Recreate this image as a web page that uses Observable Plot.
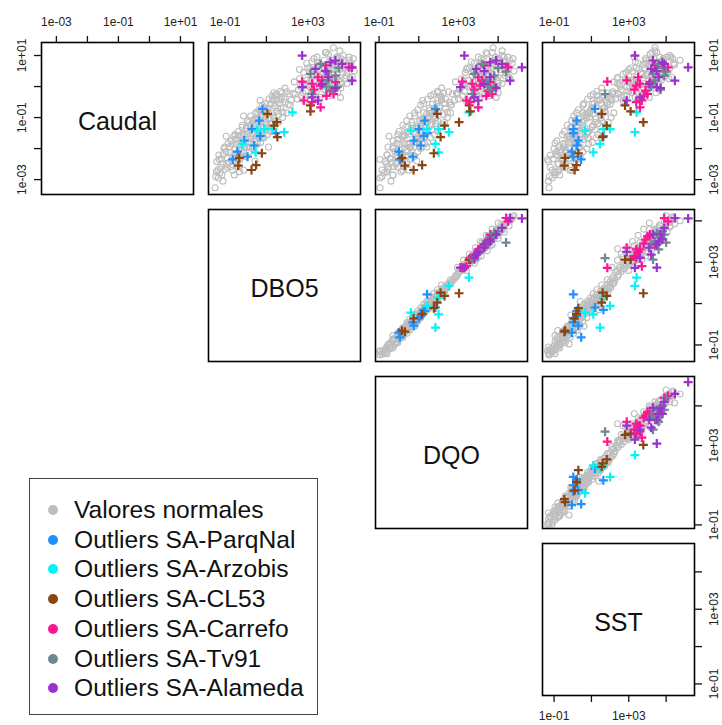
<!DOCTYPE html>
<html>
<head>
<meta charset="utf-8">
<script src="https://cdn.jsdelivr.net/npm/d3@7"></script>
<script src="https://cdn.jsdelivr.net/npm/@observablehq/plot@0.6"></script>
<style>
  body { margin: 0; background: #fff; }
  #chart { position: relative; width: 722px; height: 725px; overflow: hidden; background: #fff;
           font-family: Arial, "Liberation Sans", sans-serif; }
  .legend { position: absolute; left: 29px; top: 478px; width: 289px; height: 237px;
            border: 1.5px solid #444; background: #fff; box-sizing: border-box; }
  .legend .item { position: absolute; left: 0; height: 30px; display: flex; align-items: center;
                  font-size: 24.6px; color: #111; white-space: nowrap; }
  .legend .dot { width: 10px; height: 10px; border-radius: 50%; margin-left: 18px; margin-right: 16px; }
</style>
</head>
<body>
<div id="chart"></div>
<script>
// Variables of the scatterplot matrix (log10 scale on every axis)
const variables = ["Caudal", "DBO5", "DQO", "SST"];
// Axis limits per variable, as log10 exponents
const axisLimits = [[-3.48, 1.42], [-1.80, 5.55], [-1.18, 6.48], [-1.62, 6.52]];
// Tick exponents per variable, and which of them carry a label
const tickExps = [[-3, -2, -1, 0, 1], [-1, 1, 3, 5], [-1, 1, 3, 5], [-1, 1, 3, 5]];
const labelExps = [[-3, -1, 1], [-1, 3], [-1, 3], [-1, 3]];

const groups = ["Valores normales", "Outliers SA-ParqNal", "Outliers SA-Arzobis", "Outliers SA-CL53",
                "Outliers SA-Carrefo", "Outliers SA-Tv91", "Outliers SA-Alameda"];
const colors = ["#BEBEBE", "#1E90FF", "#00F5F5", "#8B4513", "#FF1493", "#6E8792", "#9A32CD"];

// Observations as log10 values: [Caudal, DBO5, DQO, SST]
const normales = [
  [-3.26,-1.48,-0.95,-1.27],[-2.42,-1.40,-0.70,-1.30],[-2.69,-1.35,-0.85,-1.10],[-2.21,-1.30,-0.60,-1.20],
  [-2.78,-1.25,-0.75,-0.95],[-2.33,-1.18,-0.45,-1.05],[-2.49,-1.12,-0.62,-0.80],[-2.00,-1.05,-0.30,-1.00],
  [-2.67,-1.00,-0.55,-0.70],[-2.09,-0.95,-0.20,-0.85],[-2.31,-0.90,-0.40,-0.60],[-1.83,-0.85,-0.10,-0.95],
  [-2.45,-0.80,-0.35,-0.45],[-2.12,-0.75,-0.05,-0.70],[-2.58,-0.70,-0.25,-0.55],[-1.86,-0.66,0.05,-0.40],
  [-2.23,-0.62,-0.10,-0.80],[-1.61,-0.58,0.15,-0.30],[-2.03,-0.54,0.00,-0.65],[-2.31,-0.50,-0.05,-0.20],
  [-1.84,-0.46,0.25,-0.50],[-2.16,-0.42,0.10,-0.35],[-1.59,-0.38,0.30,-0.15],[-2.31,-0.34,0.15,-0.55],
  [-1.84,-0.30,0.40,-0.25],[-1.61,-0.26,0.20,0.00],[-2.09,-0.22,0.45,-0.40],[-1.31,-0.18,0.35,-0.10],
  [-1.84,-0.14,0.55,0.10],[-2.11,-0.10,0.40,-0.30],[-1.54,-0.06,0.60,-0.05],[-1.86,-0.02,0.50,0.20],
  [-1.34,0.02,0.70,-0.10],[-1.96,0.06,0.55,0.15],[-1.54,0.10,0.80,0.05],[-1.16,0.14,0.65,0.30],
  [-1.69,0.18,0.90,0.00],[-1.96,0.22,0.75,0.35],[-1.29,0.26,0.95,0.20],[-1.51,0.30,0.80,0.45],
  [-1.09,0.34,1.05,0.15],[-1.71,0.38,0.90,0.55],[-1.29,0.42,1.10,0.30],[-1.76,0.46,1.00,0.25],
  [-1.09,0.50,1.20,0.60],[-1.42,0.54,1.05,0.40],[-0.84,0.58,1.25,0.55],[-1.52,0.62,1.15,0.75],
  [-1.24,0.66,1.35,0.50],[-1.67,0.70,1.25,0.85],[-0.89,0.74,1.40,0.70],[-1.32,0.78,1.30,0.65],
  [-0.99,0.82,1.50,0.90],[-1.47,0.86,1.40,0.80],[-0.69,0.90,1.55,1.00],[-1.02,0.94,1.45,0.75],
  [-1.24,0.98,1.65,1.10],[-0.77,1.02,1.55,0.95],[-1.39,1.06,1.70,1.20],[-0.87,1.10,1.60,0.90],
  [-1.04,1.14,1.80,1.25],[-0.57,1.18,1.70,1.05],[-1.19,1.22,1.85,1.35],[-0.87,1.26,1.75,1.10],
  [-0.44,1.30,1.95,1.30],[-1.01,1.35,1.85,1.50],[-0.63,1.40,2.05,1.25],[-1.10,1.45,1.95,1.55],
  [-0.42,1.50,2.15,1.45],[-0.69,1.55,2.05,1.70],[-0.91,1.60,2.25,1.50],[-0.43,1.65,2.15,1.80],
  [-0.70,1.70,2.35,1.65],[-0.21,1.75,2.25,1.90],[-0.83,1.80,2.45,1.75],[-0.40,1.86,2.35,2.00],
  [-0.51,1.92,2.55,1.85],[-0.17,1.98,2.50,2.15],[-0.58,2.05,2.65,2.00],[-0.24,2.12,2.70,2.25],
  [-0.44,2.20,2.80,2.10],[-0.22,2.30,2.90,2.40],
  [-2.60,-1.20,-0.55,-1.20],[-2.20,-1.10,-0.60,-0.90],[-2.50,-0.92,-0.15,-0.75],[-1.95,-0.78,-0.30,-0.50],
  [-2.40,-0.60,0.10,-0.55],[-1.70,-0.48,-0.05,-0.20],[-2.05,-0.32,0.35,-0.40],[-1.55,-0.20,0.25,0.10],
  [-1.95,-0.08,0.60,-0.20],[-1.45,0.04,0.45,0.20],[-1.80,0.12,0.85,0.15],[-1.25,0.20,0.70,0.25],
  [-1.65,0.28,1.00,0.20],[-1.35,0.36,0.85,0.50],[-1.05,0.44,1.15,0.35],[-1.60,0.52,0.95,0.65],
  [-1.15,0.60,1.30,0.50],[-1.45,0.68,1.15,0.85],[-0.95,0.76,1.50,0.75],[-1.30,0.84,1.30,1.05],
  [-0.85,0.92,1.65,0.80],[-1.15,1.00,1.45,1.20],[-0.70,1.08,1.80,1.00],[-1.20,1.16,1.60,1.35],
  [-0.55,1.24,1.90,1.15],[-0.95,1.32,1.75,1.50],[-0.30,1.42,2.10,1.30],[-0.80,1.52,1.95,1.70],
  [-0.55,1.62,2.30,1.50],[-0.35,1.72,2.15,1.90],[-0.20,1.36,1.95,1.55],[-2.55,-0.40,0.25,-0.50],
  [-2.25,0.00,0.45,0.05],[-1.95,0.40,1.10,0.30],[-1.65,0.80,1.25,0.80],[-2.90,-1.45,-0.85,-1.25],
  [-2.95,-1.32,-0.95,-1.10],[-2.70,-0.10,0.50,-0.05],
  [-2.75,-1.42,-0.60,-0.95],[-2.35,-1.28,-0.95,-1.35],[-2.85,-1.15,-0.30,-0.70],[-1.95,-1.02,-0.55,-0.75],
  [-2.60,-0.88,-0.05,-0.40],[-1.75,-0.72,-0.30,-0.85],[-2.70,-0.64,0.20,-0.15],[-1.55,-0.52,-0.05,-0.55],
  [-2.45,-0.44,0.40,0.05],[-1.45,-0.36,0.00,-0.45],[-2.35,-0.28,0.55,0.25],[-1.25,-0.16,0.20,-0.30],
  [-2.25,-0.04,0.80,0.40],[-1.10,0.08,0.40,-0.05],[-2.10,0.16,0.95,0.55],[-0.95,0.24,0.55,0.05],
  [-2.00,0.32,1.10,0.75],[-0.85,0.48,0.80,0.20],[-1.85,0.56,1.30,0.85],[-0.75,0.64,0.95,0.30],
  [-1.80,0.72,1.45,1.05],[-0.60,0.80,1.10,0.55],[-1.65,0.88,1.60,1.25],[-0.55,0.96,1.25,0.60],
  [-1.55,1.04,1.80,1.35],[-0.40,1.12,1.45,0.80],[-1.45,1.20,1.95,1.55],[-0.30,1.28,1.60,0.95],
  [-1.30,1.38,2.10,1.75],[-0.25,1.48,1.75,1.10],[-1.15,1.58,2.30,1.90],[-0.15,1.68,1.95,1.30],
  [-1.00,1.78,2.45,2.05],[-0.05,1.90,2.15,1.55],[-0.85,2.00,2.60,2.20],[-0.60,2.15,2.60,1.85],
  [-3.05,-1.10,-0.40,-1.30],[-2.75,-0.30,0.10,-0.80],[-2.40,0.45,0.90,-0.10],[-1.60,-0.95,-0.50,-0.20],
  [-0.95,-0.10,0.80,0.60],[-0.45,0.70,1.20,1.40],[-1.95,1.10,1.40,0.40],[-2.85,-0.55,-0.30,-0.95],
  [-0.40,2.50,3.00,2.30],[-0.10,2.55,3.05,2.60],[0.25,2.60,3.15,2.40],[-0.30,2.68,3.20,2.75],
  [0.05,2.75,3.25,2.50],[0.45,2.80,3.35,2.85],[-0.45,2.85,3.40,2.70],[-0.15,2.90,3.30,3.00],
  [0.20,2.95,3.50,2.80],[0.60,3.00,3.45,3.10],[-0.30,3.05,3.60,2.90],[0.00,3.10,3.55,3.25],
  [0.35,3.15,3.70,3.00],[0.80,3.20,3.65,3.35],[-0.20,3.25,3.80,3.15],[0.15,3.30,3.75,3.45],
  [0.50,3.35,3.90,3.20],[-0.40,3.40,3.85,3.50],[0.95,3.45,4.00,3.30],[0.05,3.50,3.95,3.60],
  [0.30,3.55,4.10,3.40],[0.70,3.60,4.05,3.75],[-0.25,3.65,4.20,3.55],[0.10,3.70,4.15,3.85],
  [0.45,3.75,4.30,3.65],[0.85,3.80,4.25,3.95],[-0.10,3.85,4.40,3.70],[0.25,3.90,4.35,4.05],
  [0.60,3.95,4.50,3.85],[1.05,4.00,4.45,4.15],[-0.30,4.05,4.55,3.90],[0.15,4.10,4.60,4.30],
  [0.40,4.15,4.70,4.05],[0.75,4.20,4.65,4.40],[0.00,4.25,4.80,4.20],[0.30,4.30,4.75,4.55],
  [0.65,4.35,4.90,4.30],[0.95,4.40,4.85,4.65],[-0.20,4.45,5.00,4.45],[0.20,4.50,4.95,4.75],
  [0.55,4.55,5.10,4.50],[0.90,4.60,5.05,4.85],[0.10,4.65,5.20,4.60],[0.45,4.70,5.15,4.95],
  [0.80,4.75,5.30,4.70],[0.35,4.85,5.35,5.00],[0.70,4.95,5.45,4.90],[0.25,5.05,5.60,5.15],
  [0.90,5.20,5.75,5.35],[-0.35,4.58,4.90,4.10],[1.25,4.24,4.75,4.40],[0.55,3.20,3.75,3.55],
  [0.20,3.60,4.00,3.10],[0.40,3.45,3.85,3.70],[0.65,3.70,4.35,4.10],[0.10,3.95,4.30,3.60],
  [0.50,4.05,4.55,4.45],[0.85,4.15,4.80,4.10],[0.30,4.40,4.75,4.25],[0.70,4.50,5.10,4.80],
  [-0.05,3.35,3.70,3.05],[0.35,3.85,4.45,3.90],[0.60,4.25,4.65,4.60],[0.15,4.60,5.00,4.40],
  [0.45,4.90,5.40,5.10],[1.00,4.70,5.20,5.20],[0.75,3.50,4.10,3.90],[-0.15,4.10,4.50,4.00],
  [0.25,4.80,5.25,4.65],[0.95,5.00,5.50,5.25],[0.50,5.25,5.80,5.00],[0.05,3.00,3.60,3.20],
  [0.40,4.00,4.40,3.95],[0.70,4.30,5.00,4.50],[-0.35,3.60,4.05,3.35],[0.20,3.15,3.50,2.95],
  [0.90,4.45,4.95,4.35],[0.60,3.10,3.55,3.40],[0.30,5.15,5.55,5.30],[1.10,3.90,4.40,4.25],
  [0.00,2.65,3.20,2.55],[-0.25,2.40,2.95,2.45],[0.15,2.35,2.85,2.20],[0.30,3.65,4.10,2.40],
  [0.55,2.60,3.40,3.00],[-0.20,2.75,2.95,2.10],[0.75,2.95,3.80,3.50],[0.10,3.10,3.25,2.40],
  [0.90,3.30,4.15,3.90],[-0.35,3.40,3.55,2.60],[0.65,3.55,4.45,4.20],[0.00,3.70,3.85,2.90],
  [1.10,3.85,4.70,4.50],[-0.15,4.00,4.10,3.20],[0.85,4.15,5.00,4.80],[0.20,4.30,4.40,3.50],
  [0.95,4.45,5.30,5.05],[-0.05,4.60,4.70,3.80],[0.60,4.75,5.55,5.20],[0.10,4.90,5.00,4.10],
  [0.75,5.10,5.70,5.40],[0.40,3.25,4.00,2.70],[0.15,3.80,4.60,3.30],[0.55,4.25,4.50,4.70],
  [1.15,4.55,5.20,4.40],[-0.25,3.15,3.90,3.70],[0.35,3.95,4.20,4.60],[0.70,4.85,5.15,5.45],
  [0.85,5.00,5.60,5.75]
];
const parqNal = [
  [-0.72,0.81,1.84,1.19],[-1.10,0.65,1.30,0.21],[-1.37,0.30,1.00,0.03],[-1.74,-0.07,0.75,0.30],
  [-1.90,0.41,1.10,0.21],[-2.26,0.09,0.70,0.03],[-2.35,-0.63,0.05,0.45],[-2.10,-0.40,0.00,-0.05],
  [-1.50,1.45,1.42,0.03],[-1.60,0.70,1.25,1.64]
];
const arzobis = [
  [-0.83,2.26,3.53,3.42],[-1.47,1.86,2.52,3.33],[-1.37,0.89,1.42,2.00],[-1.42,0.56,0.60,0.66],
  [-1.37,1.29,2.00,1.64],[-2.12,0.48,2.00,1.10],[-1.85,-0.16,1.84,1.46]
];
const cl53 = [
  [-2.30,-0.31,0.15,-0.41],[-2.55,-0.36,0.30,-0.45],[-2.69,0.28,0.74,0.10],[-2.15,0.78,1.76,0.30],
  [-2.53,0.50,1.17,0.20],[-0.88,1.05,1.93,1.55],[-1.26,1.37,2.30,1.82],[-1.15,1.50,3.03,3.78],
  [-1.63,1.53,2.10,1.60],[-0.61,3.13,3.54,2.80],[-0.80,3.13,3.60,3.10]
];
const carrefo = [
  [0.16,2.73,3.20,1.85],[0.09,3.21,3.70,3.60],[0.03,3.62,4.10,3.40],[-0.13,4.10,4.50,3.90],
  [-0.24,4.25,4.70,4.00],[0.62,4.98,5.50,5.10],[0.62,5.14,5.40,4.90],[0.68,3.86,4.30,4.40],
  [-0.50,3.21,3.60,3.40],[-0.67,3.62,4.00,3.60],[-0.45,2.81,3.40,3.70],[0.14,4.34,4.60,4.13],
  [-0.10,3.30,3.80,3.30],[0.20,3.70,4.20,2.89],[0.30,3.50,4.00,3.50],[-0.30,3.90,4.40,3.80]
];
const tv91 = [
  [0.73,3.62,4.20,4.60],[0.41,3.13,3.80,4.30],[0.35,4.34,4.80,4.90],[-0.02,4.42,4.80,4.50],
  [-0.10,4.20,4.60,4.70],[0.48,3.95,5.40,5.00],[-0.24,3.20,3.70,1.73],[0.20,4.00,4.40,4.40],
  [0.60,4.50,5.00,4.80],[0.00,3.90,4.50,4.20]
];
const alameda = [
  [1.00,2.73,3.30,3.33],[0.78,4.10,4.60,4.80],[0.84,4.34,4.90,4.30],[0.73,4.66,5.20,4.90],
  [0.62,5.12,6.20,6.18],[0.19,5.14,5.60,5.47],[0.57,3.37,3.90,4.20],[0.50,3.86,4.30,4.50],
  [0.08,3.70,4.30,4.10],[-0.02,2.74,3.10,4.50],[-0.35,3.21,3.80,3.60],[-0.05,4.34,4.90,4.70],
  [-0.45,3.50,4.00,2.89],[0.30,4.00,4.60,4.60]
];

// Records in natural units, tagged with their group
const series = [normales, parqNal, arzobis, cl53, carrefo, tv91, alameda];
const records = series.flatMap((rows, g) =>
  rows.map(r => ({group: groups[g], v: r.map(e => 10 ** e)})));
const normalRecords = records.filter(d => d.group === groups[0]);
const outlierRecords = records.filter(d => d.group !== groups[0]);

// Panel grid geometry
const panelLeft = [41, 208, 375, 542];
const panelTop = [42, 209, 376, 543];
const size = 152;
const M = 45;

const fmtExp = d => {
  const e = Math.round(Math.log10(d));
  return "1e" + (e < 0 ? "-" : "+") + String(Math.abs(e)).padStart(2, "0");
};
const ticksFor = k => tickExps[k].map(e => 10 ** e);
const labelFor = k => {
  const s = new Set(labelExps[k]);
  return d => (s.has(Math.round(Math.log10(d))) ? fmtExp(d) : "");
};

function panel(i, j) {
  const marks = [];
  if (i === j) {
    marks.push(Plot.text([variables[i]], {text: d => d, frameAnchor: "middle", dy: 3, fontSize: 25, fill: "#111"}));
  } else {
    marks.push(Plot.dot(normalRecords, {x: d => d.v[j], y: d => d.v[i], r: 3, stroke: colors[0], strokeWidth: 1.1}));
    marks.push(Plot.dot(outlierRecords, {x: d => d.v[j], y: d => d.v[i], symbol: "plus", r: 3, stroke: "group", strokeWidth: 2.2}));
  }
  marks.push(Plot.frame({stroke: "#000", strokeWidth: 1.6}));
  const tickStyle = {tickSize: 7, strokeWidth: 1.3, fill: "#222"};
  if (i === 0) marks.push(Plot.axisX({anchor: "top", ticks: ticksFor(j), tickFormat: labelFor(j), tickPadding: 10, ...tickStyle}));
  if (i === 3 && j === 3) marks.push(Plot.axisX({anchor: "bottom", ticks: ticksFor(j), tickFormat: labelFor(j), tickPadding: 9, ...tickStyle}));
  if (i === 0 && j === 0) marks.push(Plot.axisY({anchor: "left", ticks: ticksFor(i), tickFormat: labelFor(i), tickRotate: -90, tickPadding: 9, ...tickStyle}));
  if (j === 3) marks.push(Plot.axisY({anchor: "right", ticks: ticksFor(i), tickFormat: labelFor(i), tickRotate: -90, lineAnchor: "top", tickPadding: 8, ...tickStyle}));

  const svg = Plot.plot({
    width: size + 2 * M,
    height: size + 2 * M,
    margin: M,
    x: {type: "log", domain: axisLimits[j].map(e => 10 ** e), axis: null},
    y: {type: "log", domain: axisLimits[i].map(e => 10 ** e), axis: null},
    color: {domain: groups, range: colors},
    marks
  });
  Object.assign(svg.style, {
    position: "absolute",
    left: `${panelLeft[j] - M}px`,
    top: `${panelTop[i] - M}px`,
    background: "transparent",
    overflow: "visible",
    maxWidth: "none",
    fontFamily: 'Arial, "Liberation Sans", sans-serif',
    fontSize: "12px",
    color: "#111"
  });
  return svg;
}

const chart = document.getElementById("chart");
for (let i = 0; i < 4; i++) {
  for (let j = i; j < 4; j++) chart.appendChild(panel(i, j));
}

// Legend box
const legend = document.createElement("div");
legend.className = "legend";
groups.forEach((g, k) => {
  const item = document.createElement("div");
  item.className = "item";
  item.style.top = `${16 + k * 29.7}px`;
  const dot = document.createElement("span");
  dot.className = "dot";
  dot.style.background = colors[k];
  const label = document.createElement("span");
  label.textContent = g;
  item.append(dot, label);
  legend.appendChild(item);
});
chart.appendChild(legend);
</script>
</body>
</html>
